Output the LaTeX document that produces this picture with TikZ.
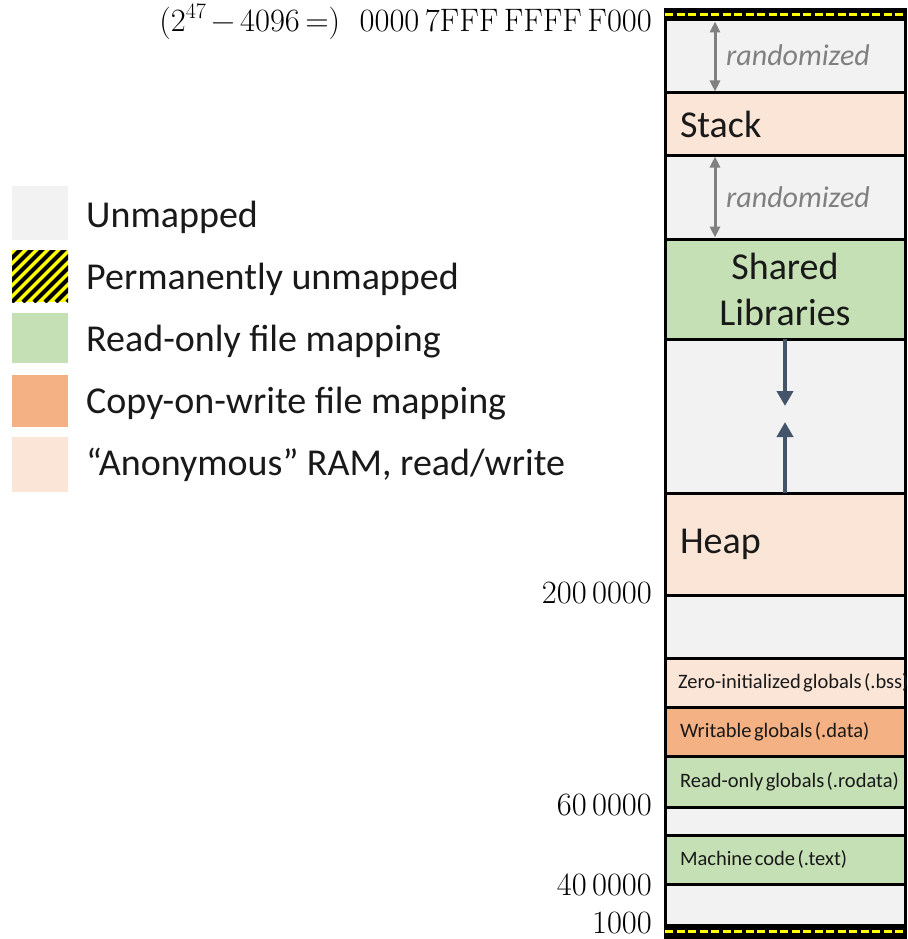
\documentclass[tikz,border=0pt]{standalone}
\usepackage{fontspec}
\setmainfont{Carlito}
\newfontfamily\lmr{Latin Modern Roman}
\usetikzlibrary{arrows.meta}
\definecolor{unm}{HTML}{F2F2F2}
\definecolor{rof}{HTML}{C5E0B4}
\definecolor{cow}{HTML}{F4B183}
\definecolor{anon}{HTML}{FBE5D6}
\definecolor{garrow}{HTML}{808080}
\definecolor{barrow}{HTML}{44546A}
\definecolor{hazard}{HTML}{FFFF00}
\newcommand\tightlbl[1]{\mbox{\spaceskip=0.12em\relax #1}}
\begin{document}
\begin{tikzpicture}[x=1pt,y=-1pt,
  blk/.style={draw=black,line width=3pt,minimum width=240pt,inner ysep=0pt,inner xsep=15pt,
    outer sep=0pt,anchor=north,text width=210pt,align=left,text=black!90},
  big/.style={font=\fontsize{38}{46}\selectfont},
  small/.style={font=\fontsize{20.5}{24}\selectfont},
  strip/.style={blk,fill=black},
  ydash/.style={draw=hazard,line width=3pt,dash pattern=on 8pt off 3.5pt},
  garr/.style={draw=garrow,line width=3pt,{Triangle[length=11pt,width=10pt]}-{Triangle[length=11pt,width=10pt]},shorten <=1.5pt,shorten >=1.5pt},
  barr/.style={draw=barrow,line width=4pt,-{Triangle[length=15pt,width=16pt]}},
  rnd/.style={font=\fontsize{30}{36}\selectfont\itshape,text=garrow,inner sep=0pt},
  leg/.style={minimum width=56pt,inner sep=0pt,outer sep=0pt},
  legt/.style={font=\fontsize{38}{46}\selectfont,anchor=base west,inner sep=0pt,text=black!90},
  addr/.style={font=\lmr\fontsize{32.5}{38}\selectfont,anchor=base east,inner sep=0pt}]
\useasboundingbox (0,0) rectangle (907,939);
\fill[white] (0,0) rectangle (907,939);

% memory column
\node[strip,minimum height=10pt] (topstrip) at (785,10) {};
\draw[ydash] (topstrip.west) -- (topstrip.east);
\node[blk,fill=unm,minimum height=73pt] (u1) at (785,20) {};
\node[blk,fill=anon,minimum height=62pt,big] (stack) at (785,93) {Stack};
\node[blk,fill=unm,minimum height=84pt] (u2) at (785,155) {};
\node[blk,fill=rof,minimum height=100pt,big,align=center] (libs) at (785,239) {Shared\\Libraries};
\node[blk,fill=unm,minimum height=154pt] (u3) at (785,339) {};
\node[blk,fill=anon,minimum height=102pt,big] (heap) at (785,493) {Heap};
\node[blk,fill=unm,minimum height=63pt] (u4) at (785,595) {};
\node[blk,fill=anon,minimum height=49pt,small,inner xsep=13pt,text width=214pt] (bss) at (785,658) {\tightlbl{Zero-initialized globals (.bss)}};
\node[blk,fill=cow,minimum height=49pt,small] (data) at (785,707) {\tightlbl{Writable globals (.data)}};
\node[blk,fill=rof,minimum height=51pt,small] (rodata) at (785,756) {\tightlbl{Read-only globals (.rodata)}};
\node[blk,fill=unm,minimum height=28pt] (u5) at (785,807) {};
\node[blk,fill=rof,minimum height=49pt,small] (text) at (785,835) {\tightlbl{Machine code (.text)}};
\node[blk,fill=unm,minimum height=41pt] (u6) at (785,884) {};
\node[strip,minimum height=13pt] (botstrip) at (785,925) {};
\draw[ydash,line width=2.5pt] (botstrip.west) -- (botstrip.east);

% randomized arrows
\draw[garr] ([xshift=-70pt]u1.north) -- ([xshift=-70pt]u1.south);
\node[rnd] (r1) at (798,55) {randomized};
\draw[garr] ([xshift=-70pt]u2.north) -- ([xshift=-70pt]u2.south);
\node[rnd] (r2) at (798,197) {randomized};

% growth arrows
\coordinate (libend) at (785,406);
\coordinate (heapend) at (785,422);
\draw[barr] (libs.south) -- (libend);
\draw[barr] (heap.north) -- (heapend);

% addresses
\node[addr] (a0) at (652,32) {(2\raisebox{0.42em}{\fontsize{22}{26}\selectfont 47}\,−\,4096\,=)\hspace{0.6em}0000\,7FFF\,FFFF\,F000};
\node[addr] (a1) at (652,603) {200\,0000};
\node[addr] (a2) at (652,815) {60\,0000};
\node[addr] (a3) at (652,895) {40\,0000};
\node[addr] (a4) at (652,933) {1000};

% legend
\node[leg,fill=unm,minimum height=54pt] (l1) at (40,213) {};
\node[leg,minimum height=52pt,path picture={
  \fill[hazard] (path picture bounding box.south west) rectangle (path picture bounding box.north east);
  \foreach \i in {-6,...,6}
    \draw[black,line width=4pt] ([xshift=\i*11pt]path picture bounding box.south west) -- ++(70pt,70pt);
}] (l2) at (40,276) {};
\node[leg,fill=rof,minimum height=50pt] (l3) at (40,338) {};
\node[leg,fill=cow,minimum height=52pt] (l4) at (40,401) {};
\node[leg,fill=anon,minimum height=55pt] (l5) at (40,464.5) {};
\node[legt] (t1) at (86,227) {Unmapped};
\node[legt] (t2) at (86,289) {Permanently unmapped};
\node[legt] (t3) at (86,351) {Read-only file mapping};
\node[legt] (t4) at (86,413) {Copy-on-write file mapping};
\node[legt] (t5) at (86,475) {“Anonymous” RAM, read/write};
\end{tikzpicture}
\end{document}
